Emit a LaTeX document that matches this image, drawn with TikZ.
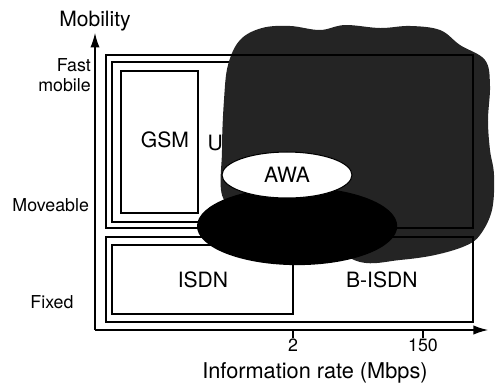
\documentclass[tikz,border=0pt]{standalone}
\usepackage{fontspec}
\setmainfont{TeX Gyre Heros}
\usetikzlibrary{arrows.meta}
\tikzset{box/.style = {line width = 0.8pt},
  lbl/.style = {font = \fontsize{16}{18}\selectfont, inner sep = 1pt},
  small/.style = {font = \fontsize{13.5}{15.5}\selectfont, inner sep = 1pt},
  axis/.style = {line width = 0.9pt, -{Latex[length = 11pt, width = 7pt]}}}

\begin{document}
\begin{tikzpicture}
    \useasboundingbox (-2.533, -1.493) rectangle (10.667, 8.8);

    % UMTS label, mostly hidden by the cloud
    \node [lbl, anchor = west] (umts) at (2.96, 4.99) {UMTS};
    \draw [box] (0.453, 2.88) rectangle (9.87, 7.147);

    % cloud
    \fill [black!86] plot [smooth cycle, tension = 0.6] coordinates {
      (3.44, 3.467) (3.387, 4.8) (3.44, 6.133) (3.547, 7.067) (3.867, 7.733)
      (4.453, 8.053) (5.2, 8.107) (6.0, 8.0) (6.667, 8.133) (7.6, 8.053)
      (8.4, 8.107) (9.2, 8.0) (9.733, 7.6) (10.4, 7.2) (10.533, 6.533)
      (10.48, 5.6) (10.533, 4.8) (10.64, 4.133) (10.587, 3.2) (10.267, 2.533)
      (9.867, 2.24) (9.067, 2.0) (8.133, 1.867) (7.067, 1.813) (6.0, 2.4)
      (4.4, 3.067)};

    % mobile networks
    \draw [box] (0.293, 2.72) rectangle (10.08, 7.333);
    \draw [box] (0.693, 3.12) rectangle (2.747, 6.907);
    \node [lbl] (gsm) at (1.867, 5.067) {GSM};

    % fixed networks
    \draw [box] (0.293, 0.213) rectangle (10.08, 2.48);
    \draw [box] (0.453, 0.427) rectangle (5.28, 2.267);
    \node [lbl] (isdn) at (2.88, 1.33) {ISDN};
    \node [lbl] (bisdn) at (7.65, 1.33) {B-ISDN};

    % AWA
    \fill (5.39, 2.77) ellipse [x radius = 2.67, y radius = 1.04];
    \draw [fill = white, line width = 0.8pt] (5.12, 4.133) ellipse [x radius = 1.733, y radius = 0.613];
    \node [lbl] (awa) at (5.12, 4.133) {AWA};

    % axes
    \coordinate (o) at (0, 0);
    \coordinate (ytop) at (0, 7.92);
    \coordinate (xend) at (10.48, 0);
    \draw [axis] (o) -- (ytop);
    \draw [axis] (o) -- (xend);
    \node [lbl, above] (mob) at (ytop) {Mobility};
    \node [font = \fontsize{16.5}{18}\selectfont, below] (xlab) at (5.867, -0.75) {Information rate (Mbps)};

    \coordinate (t2) at (5.28, 0);
    \coordinate (t150) at (8.747, 0);
    \draw [line width = 0.8pt] (t2) -- ++(0, -0.2) node [small, below] (n2) {2};
    \draw [line width = 0.8pt] (t150) -- ++(0, -0.2) node [small, below] (n150) {150};

    \node [small, anchor = east, align = right] (fast) at (-0.07, 6.8) {Fast\\mobile};
    \node [small, anchor = east] (move) at (-0.12, 3.33) {Moveable};
    \node [small] (fixed) at (-1.147, 0.747) {Fixed};
  \end{tikzpicture}
\end{document}
